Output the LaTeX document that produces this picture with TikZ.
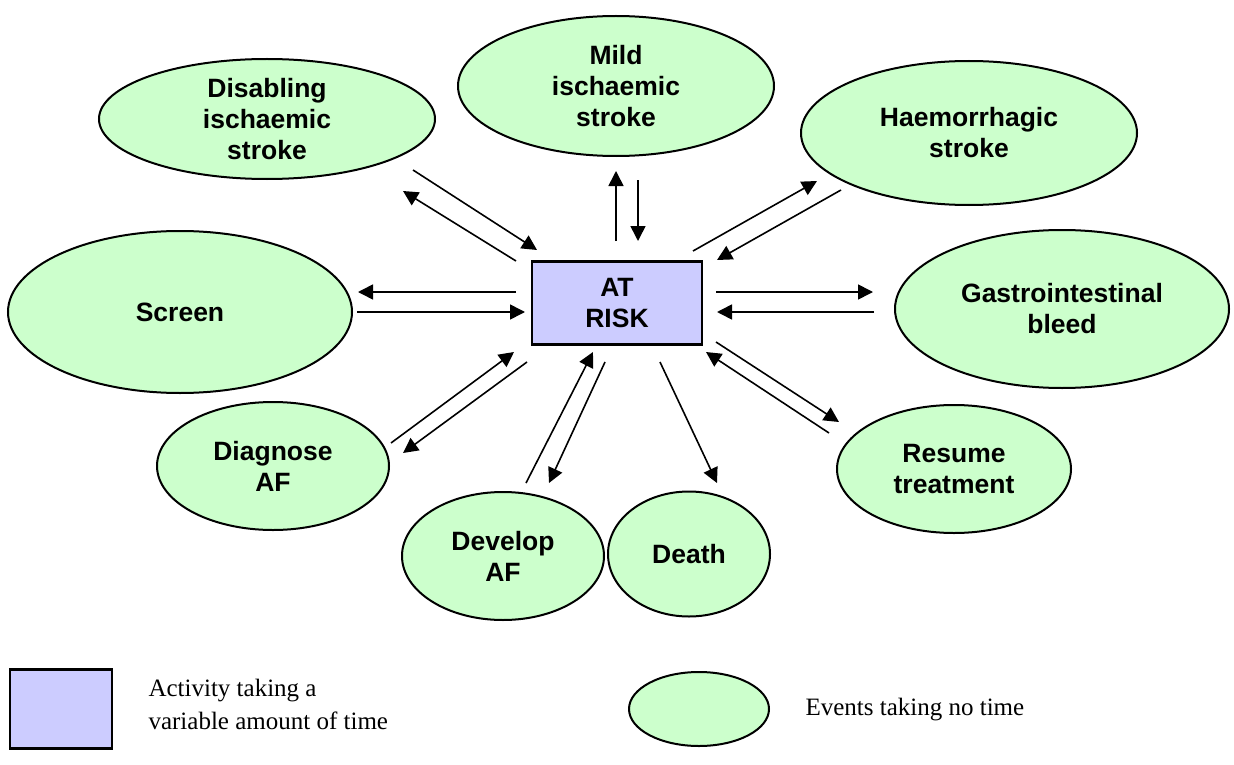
\documentclass[tikz,border=0pt]{standalone}
\usepackage{fontspec}
\newfontfamily\arialf{Liberation Sans}
\newfontfamily\seriff{Liberation Serif}
\usetikzlibrary{shapes.geometric,arrows.meta}
\definecolor{evgreen}{HTML}{CCFFCC}
\definecolor{actblue}{HTML}{CCCCFF}
\tikzset{
  event/.style={ellipse,draw=black,line width=2pt,fill=evgreen,inner sep=0pt,
    align=center,font=\arialf\bfseries\fontsize{26.5}{31}\selectfont},
  activity/.style={rectangle,draw=black,line width=2.2pt,fill=actblue,inner sep=0pt,
    align=center,font=\arialf\bfseries\fontsize{26.5}{31}\selectfont},
  arr/.style={line width=1.6pt,-{Triangle[length=15pt,width=15pt]}},
  legtext/.style={anchor=west,align=left,font=\seriff\fontsize{25}{33}\selectfont}
}
\begin{document}
\begin{tikzpicture}[x=1pt,y=-1pt]
\useasboundingbox (0,0) rectangle (1234,765);
% events
\node[event,minimum width=336pt,minimum height=120pt] (dis) at (267,119) {Disabling\\ischaemic\\stroke};
\node[event,minimum width=316pt,minimum height=140pt] (mild) at (616,86) {Mild\\ischaemic\\stroke};
\node[event,minimum width=336pt,minimum height=144pt] (haem) at (969,133) {Haemorrhagic\\stroke};
\node[event,minimum width=344pt,minimum height=162pt] (scr) at (180,312) {Screen};
\node[event,minimum width=334pt,minimum height=158pt] (gi) at (1062,309) {Gastrointestinal\\bleed};
\node[event,minimum width=232pt,minimum height=128pt] (diag) at (273,466) {Diagnose\\AF};
\node[event,minimum width=202pt,minimum height=128pt] (dev) at (503,556) {Develop\\AF};
\node[event,minimum width=162pt,minimum height=125pt] (death) at (689,554) {Death};
\node[event,minimum width=234pt,minimum height=128pt] (res) at (954,469) {Resume\\treatment};
% activity
\node[activity,minimum width=170pt,minimum height=83pt] (risk) at (617,303) {AT\\RISK};
% arrow end points
\coordinate (d1s) at (413,170); \coordinate (d1e) at (537,250);
\coordinate (d2s) at (516,261); \coordinate (d2e) at (403,191);
\coordinate (m1s) at (616,241); \coordinate (m1e) at (616,171);
\coordinate (m2s) at (638,180); \coordinate (m2e) at (638,241);
\coordinate (h1s) at (693,251); \coordinate (h1e) at (817,181);
\coordinate (h2s) at (841,190); \coordinate (h2e) at (717,260);
\coordinate (s1s) at (516,292); \coordinate (s1e) at (358,292);
\coordinate (s2s) at (357,312); \coordinate (s2e) at (525,312);
\coordinate (g1s) at (716,292); \coordinate (g1e) at (873,292);
\coordinate (g2s) at (874,312); \coordinate (g2e) at (717,312);
\coordinate (a1s) at (391,443); \coordinate (a1e) at (514,352);
\coordinate (a2s) at (527,362); \coordinate (a2e) at (403,453);
\coordinate (v1s) at (526,483); \coordinate (v1e) at (593,352);
\coordinate (v2s) at (605,362); \coordinate (v2e) at (549,483);
\coordinate (x1s) at (660,362); \coordinate (x1e) at (717,483);
\coordinate (r1s) at (716,342); \coordinate (r1e) at (839,422);
\coordinate (r2s) at (829,433); \coordinate (r2e) at (706,352);
% connectors
\draw[arr] (d1s) -- (d1e);
\draw[arr] (d2s) -- (d2e);
\draw[arr] (m1s) -- (m1e);
\draw[arr] (m2s) -- (m2e);
\draw[arr] (h1s) -- (h1e);
\draw[arr] (h2s) -- (h2e);
\draw[arr] (s1s) -- (s1e);
\draw[arr] (s2s) -- (s2e);
\draw[arr] (g1s) -- (g1e);
\draw[arr] (g2s) -- (g2e);
\draw[arr] (a1s) -- (a1e);
\draw[arr] (a2s) -- (a2e);
\draw[arr] (v1s) -- (v1e);
\draw[arr] (v2s) -- (v2e);
\draw[arr] (x1s) -- (x1e);
\draw[arr] (r1s) -- (r1e);
\draw[arr] (r2s) -- (r2e);
% legend
\node[activity,minimum width=102pt,minimum height=79pt] (legact) at (61,709) {};
\node[legtext] (legacttxt) at (145,704) {Activity taking a\\variable amount of time};
\node[event,minimum width=140pt,minimum height=74pt] (legev) at (699,709) {};
\node[legtext] (legevtxt) at (802,710) {Events taking no time};
\end{tikzpicture}
\end{document}
